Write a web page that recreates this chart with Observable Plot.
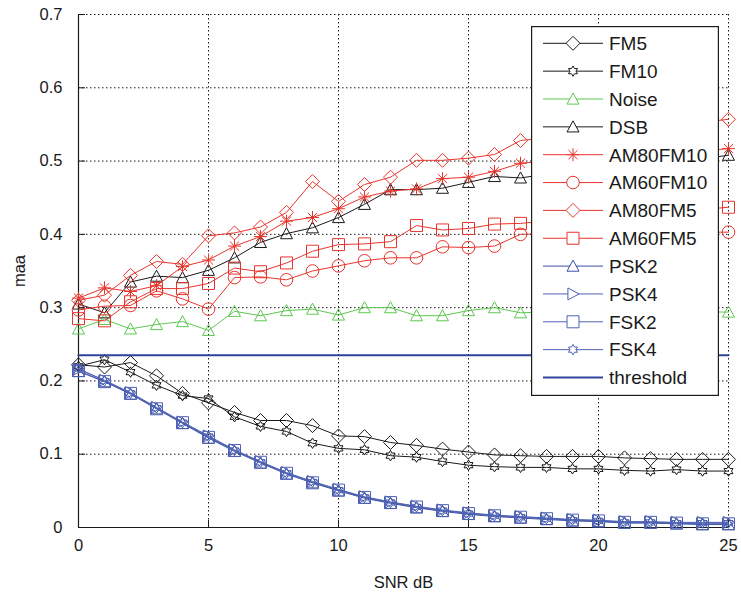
<!DOCTYPE html>
<html><head><meta charset="utf-8">
<script src="https://cdn.jsdelivr.net/npm/d3@7"></script>
<script src="https://cdn.jsdelivr.net/npm/@observablehq/plot@0.6"></script>
<style>
body{margin:0;background:#fff;font-family:"Liberation Sans",Arial,sans-serif;}
#wrap{position:relative;width:741px;height:593px;}
#legend{position:absolute;left:531px;top:26px;width:188px;height:370px;}
</style></head><body><div id="wrap"></div>
<script>
// ---------- data ----------
const snr = d3.range(0, 26);
const xTicks = [0, 5, 10, 15, 20, 25];
const yTicks = [0, 0.1, 0.2, 0.3, 0.4, 0.5, 0.6, 0.7];
const threshold = 0.235;

const FM5 = [0.222,0.219,0.225,0.207,0.183,0.170,0.157,0.146,0.146,0.139,0.125,0.124,0.116,0.112,0.107,0.103,0.099,0.098,0.097,0.097,0.097,0.095,0.094,0.093,0.093,0.093];
const FM10 = [0.220,0.229,0.212,0.194,0.180,0.176,0.151,0.138,0.131,0.115,0.108,0.106,0.098,0.096,0.090,0.085,0.083,0.082,0.082,0.080,0.080,0.078,0.077,0.079,0.077,0.077];
const Noise = [0.271,0.284,0.271,0.277,0.281,0.269,0.295,0.289,0.296,0.298,0.290,0.300,0.300,0.289,0.289,0.296,0.300,0.293,0.294,0.291,0.296,0.293,0.297,0.292,0.294,0.294];
const DSB = [0.305,0.293,0.335,0.343,0.341,0.351,0.368,0.389,0.401,0.409,0.423,0.441,0.461,0.461,0.463,0.471,0.479,0.477,0.482,0.485,0.488,0.492,0.495,0.499,0.503,0.508];
const AM80FM10 = [0.313,0.327,0.322,0.330,0.356,0.365,0.384,0.397,0.418,0.423,0.435,0.451,0.459,0.462,0.476,0.478,0.486,0.497,0.500,0.503,0.505,0.507,0.510,0.512,0.514,0.517];
const AM60FM10 = [0.297,0.302,0.303,0.323,0.312,0.298,0.341,0.342,0.338,0.350,0.357,0.364,0.368,0.368,0.383,0.382,0.384,0.400,0.401,0.400,0.402,0.401,0.403,0.402,0.403,0.403];
const AM80FM5 = [0.310,0.317,0.344,0.363,0.359,0.398,0.402,0.410,0.430,0.472,0.445,0.468,0.478,0.501,0.501,0.504,0.509,0.528,0.532,0.536,0.539,0.542,0.546,0.550,0.553,0.557];
const AM60FM5 = [0.285,0.282,0.308,0.326,0.326,0.333,0.354,0.349,0.361,0.377,0.386,0.387,0.390,0.412,0.406,0.408,0.414,0.415,0.418,0.420,0.422,0.425,0.428,0.431,0.434,0.437];
const PSK2 = [0.213,0.199,0.182,0.162,0.142,0.122,0.104,0.088,0.073,0.061,0.050,0.040,0.033,0.027,0.022,0.018,0.015,0.013,0.011,0.009,0.008,0.006,0.006,0.005,0.004,0.004];
const PSK4 = [0.216,0.201,0.184,0.164,0.144,0.125,0.106,0.090,0.075,0.063,0.052,0.042,0.035,0.029,0.024,0.020,0.017,0.015,0.013,0.011,0.010,0.008,0.008,0.007,0.007,0.007];
const FSK2 = [0.214,0.199,0.183,0.162,0.143,0.123,0.105,0.089,0.074,0.061,0.051,0.041,0.034,0.028,0.023,0.019,0.016,0.014,0.012,0.010,0.009,0.007,0.007,0.006,0.005,0.005];
const FSK4 = [0.217,0.200,0.183,0.163,0.143,0.124,0.105,0.089,0.074,0.062,0.051,0.041,0.034,0.028,0.023,0.019,0.016,0.014,0.012,0.010,0.009,0.007,0.007,0.006,0.006,0.006];

// ---------- symbols ----------
const R = s => Math.sqrt(s / Math.PI);
const sym = {
  diamond: {draw(c, s){const r=R(s);c.moveTo(0,-r);c.lineTo(r,0);c.lineTo(0,r);c.lineTo(-r,0);c.closePath();}},
  triUp: {draw(c, s){const r=R(s);c.moveTo(0,-r);c.lineTo(r,r*0.85);c.lineTo(-r,r*0.85);c.closePath();}},
  triRight: {draw(c, s){const r=R(s);c.moveTo(r,0);c.lineTo(-r*0.85,r);c.lineTo(-r*0.85,-r);c.closePath();}},
  square: {draw(c, s){const r=R(s);c.rect(-r,-r,2*r,2*r);}},
  circle: {draw(c, s){const r=R(s);c.moveTo(r,0);c.arc(0,0,r,0,2*Math.PI);}},
  hexagram: {draw(c, s){const r=R(s);for(let k=0;k<12;k++){const a=-Math.PI/2+k*Math.PI/6;const rr=k%2?r/Math.sqrt(3):r;const x=rr*Math.cos(a),y=rr*Math.sin(a);k?c.lineTo(x,y):c.moveTo(x,y);}c.closePath();}},
  asterisk: {draw(c, s){const r=R(s);const d=r*Math.SQRT1_2;c.moveTo(-r,0);c.lineTo(r,0);c.moveTo(0,-r);c.lineTo(0,r);c.moveTo(-d,-d);c.lineTo(d,d);c.moveTo(-d,d);c.lineTo(d,-d);}}
};

const BLACK = "#1a1a1a", GREEN = "#5cc84f", RED = "#e8352c", BLUE = "#3a4ea6", BLUE2 = "#4d61b4", TBLUE = "#2e4499";

const series = [
  {name: "FM5", values: FM5, color: BLACK, symbol: sym.diamond, r: 7},
  {name: "FM10", values: FM10, color: BLACK, symbol: sym.hexagram, r: 5.2},
  {name: "Noise", values: Noise, color: GREEN, symbol: sym.triUp, r: 6},
  {name: "DSB", values: DSB, color: BLACK, symbol: sym.triUp, r: 6},
  {name: "AM80FM10", values: AM80FM10, color: RED, symbol: sym.asterisk, r: 6.5},
  {name: "AM60FM10", values: AM60FM10, color: RED, symbol: sym.circle, r: 6.3},
  {name: "AM80FM5", values: AM80FM5, color: RED, symbol: sym.diamond, r: 7},
  {name: "AM60FM5", values: AM60FM5, color: RED, symbol: sym.square, r: 6},
  {name: "PSK2", values: PSK2, color: BLUE, symbol: sym.triUp, r: 6},
  {name: "PSK4", values: PSK4, color: BLUE2, symbol: sym.triRight, r: 6},
  {name: "FSK2", values: FSK2, color: BLUE2, symbol: sym.square, r: 6},
  {name: "FSK4", values: FSK4, color: BLUE2, symbol: sym.hexagram, r: 5.2}
];

const FONT = "'Liberation Sans', Arial, sans-serif";
const fmt = d => String(+d.toFixed(1));

const marks = [
  Plot.ruleX(xTicks.filter(d => d > 0), {stroke: BLACK, strokeDasharray: "1.5,2.5", strokeWidth: 1}),
  Plot.ruleY(yTicks.filter(d => d > 0), {stroke: BLACK, strokeDasharray: "1.5,2.5", strokeWidth: 1}),
  Plot.ruleX([0], {stroke: BLACK, strokeWidth: 1.2}),
  Plot.ruleY([0], {stroke: BLACK, strokeWidth: 1.2}),
  Plot.axisY({ticks: yTicks, tickSize: 7, dx: 7, tickFormat: () => "", label: null, stroke: BLACK}),
  Plot.axisX({ticks: xTicks, tickSize: 7, dy: -7, tickFormat: () => "", label: null, stroke: BLACK})
];
for (const s of series) {
  const data = snr.map((x, i) => ({x, y: s.values[i]}));
  marks.push(Plot.line(data, {x: "x", y: "y", stroke: s.color, strokeWidth: 1}));
  marks.push(Plot.dot(data, {x: "x", y: "y", symbol: s.symbol, r: s.r, stroke: s.color, fill: "none", strokeWidth: 1}));
}
marks.push(Plot.line([{x: snr[0], y: threshold}, {x: snr[snr.length - 1], y: threshold}], {x: "x", y: "y", stroke: TBLUE, strokeWidth: 2}));
marks.push(Plot.axisY({ticks: yTicks, tickSize: 0, tickPadding: 16, tickFormat: fmt, fontSize: 16.5, fill: BLACK,
  label: "maa", labelAnchor: "center", labelArrow: "none", labelOffset: 65}));
marks.push(Plot.axisX({ticks: xTicks, tickSize: 0, tickPadding: 12, tickFormat: fmt, fontSize: 16.5, fill: BLACK,
  label: "SNR dB", labelAnchor: "center", labelArrow: "none", labelOffset: 60}));

const chart = Plot.plot({
  width: 741, height: 593,
  marginLeft: 78, marginRight: 13, marginTop: 14, marginBottom: 66,
  x: {domain: [0, 25]},
  y: {domain: [0, 0.7]},
  style: {fontFamily: FONT, fontSize: "16.5px", background: "#fff", color: BLACK},
  marks
});
const wrap = document.getElementById("wrap");
wrap.appendChild(chart);

// ---------- legend ----------
const legDiv = document.createElement("div");
legDiv.id = "legend";
wrap.appendChild(legDiv);
const LW = 188, LH = 370;
const lsvg = d3.select(legDiv).append("svg").attr("width", LW).attr("height", LH);
lsvg.append("rect").attr("x", 0.6).attr("y", 0.6).attr("width", LW - 1.2).attr("height", LH - 1.2)
  .attr("fill", "#fff").attr("stroke", BLACK).attr("stroke-width", 1.2);
const entries = [...series.map(s => ({name: s.name, color: s.color, symbol: s.symbol, r: s.r, w: 1})),
  {name: "threshold", color: TBLUE, symbol: null, w: 2}];
entries.forEach((e, i) => {
  const g = lsvg.append("g").attr("transform", `translate(0,${17.3 + i * 27.85})`);
  g.append("line").attr("x1", 12).attr("x2", 72).attr("stroke", e.color).attr("stroke-width", e.w);
  if (e.symbol) g.append("path").attr("transform", "translate(42,0)")
    .attr("d", d3.symbol(e.symbol, Math.PI * e.r * e.r)()).attr("fill", "#fff").attr("stroke", e.color);
  g.append("text").attr("x", 78).attr("dy", "0.36em").attr("font-family", FONT).attr("font-size", 19)
    .attr("fill", BLACK).text(e.name);
});
</script></body></html>
